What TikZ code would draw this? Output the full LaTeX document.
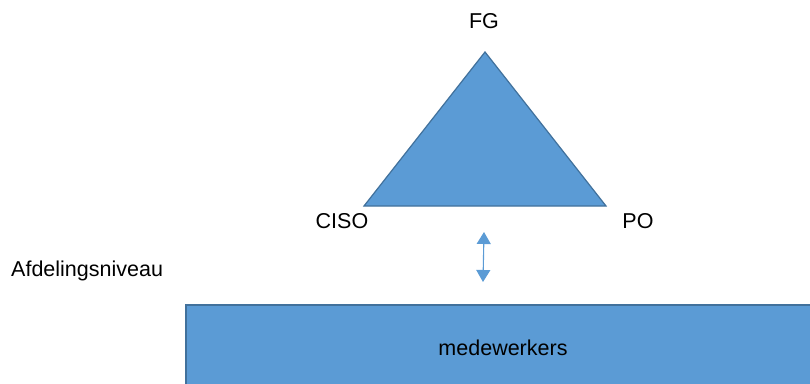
\documentclass[tikz,border=0pt]{standalone}
\usepackage{fontspec}
\setmainfont{Liberation Sans}
\usetikzlibrary{arrows.meta}
\definecolor{fillblue}{HTML}{5B9BD5}
\definecolor{edgeblue}{HTML}{41719C}
\begin{document}
\begin{tikzpicture}[x=1pt,y=-1pt,
  lbl/.style={font=\fontsize{21.5}{24}\selectfont, inner sep=0pt, text=black},
  shapefill/.style={fill=fillblue, draw=edgeblue, line width=1.2pt},
  link/.style={draw=fillblue, line width=1.1pt, {Triangle[width=14pt,length=12pt]}-{Triangle[width=14pt,length=12pt]}}]
\useasboundingbox (0,0) rectangle (810,383);
\coordinate (apex) at (485,52);
\coordinate (bl) at (364,206);
\coordinate (br) at (606,206);
\draw[shapefill, line join=miter] (apex) -- (br) -- (bl) -- cycle;
\node[lbl] (fg) at (484,21) {FG};
\node[lbl] (ciso) at (342,221) {CISO};
\node[lbl] (po) at (638,221) {PO};
\node[lbl, anchor=west] (afd) at (11,271) {Afdelingsniveau};
\draw[shapefill] (186,305) rectangle (815,390);
\node[lbl] (med) at (503,348) {medewerkers};
\coordinate (atop) at (484,232);
\coordinate (abot) at (483,282);
\draw[link] (atop) -- (abot);
\end{tikzpicture}
\end{document}
